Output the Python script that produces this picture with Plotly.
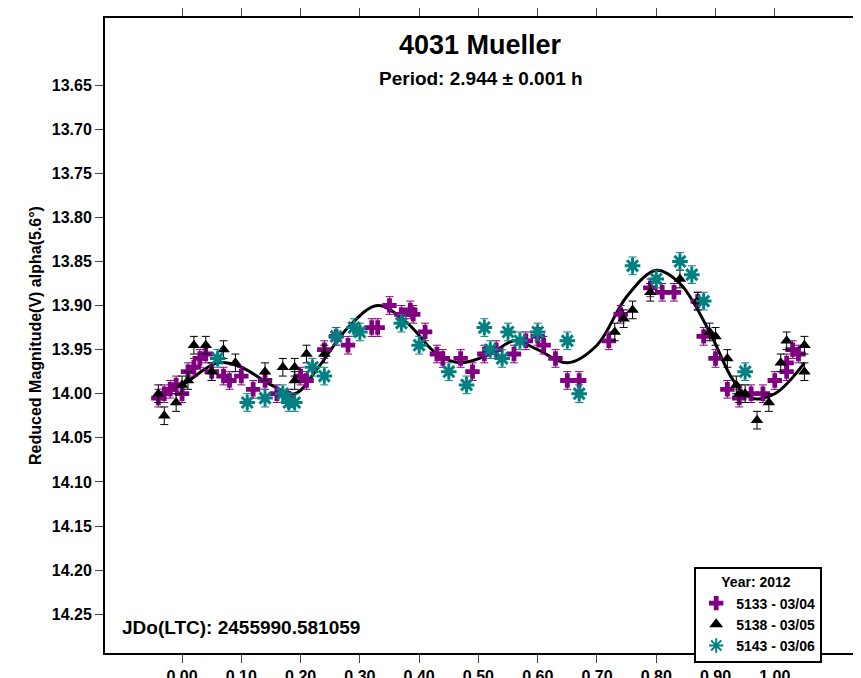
import plotly.graph_objects as go

p_x = [-0.04,-0.03,-0.02,-0.01,0.0,0.01,0.02,0.03,0.04,0.05,0.07,0.08,0.10,0.12,0.14,0.16,0.18,0.20,0.21,0.24,0.26,0.28,0.32,0.33,0.35,0.37,0.385,0.39,0.41,0.43,0.44,0.47,0.49,0.51,0.53,0.56,0.58,0.60,0.61,0.63,0.65,0.67,0.72,0.74,0.79,0.81,0.83,0.87,0.88,0.90,0.92,0.94,0.96,0.98,1.0,1.02,1.03,1.04,1.02]
p_y = [14.005,14.0,13.995,13.99,14.0,13.975,13.97,13.96,13.955,13.975,13.98,13.985,13.98,13.995,13.985,14.0,14.005,13.98,13.985,13.95,13.935,13.945,13.925,13.925,13.9,13.91,13.905,13.91,13.93,13.955,13.96,13.96,13.975,13.955,13.95,13.955,13.94,13.935,13.945,13.96,13.985,13.985,13.94,13.91,13.88,13.885,13.885,13.895,13.935,13.96,13.995,14.005,14.0,14.0,13.985,13.965,13.95,13.955,13.975]
b_x = [-0.04,-0.03,-0.01,0.0,0.01,0.02,0.04,0.05,0.07,0.09,0.14,0.17,0.19,0.19,0.21,0.24,0.73,0.745,0.76,0.79,0.84,0.87,0.89,0.90,0.92,0.935,0.94,0.95,0.97,0.99,1.01,1.02,1.05,1.05]
b_y = [14.0,14.025,14.01,13.99,13.985,13.945,13.945,13.975,13.95,13.965,13.975,13.97,13.985,13.97,13.955,13.955,13.93,13.915,13.905,13.885,13.87,13.895,13.93,13.935,13.96,13.99,14.0,14.0,14.03,14.01,13.965,13.94,13.945,13.975]
t_x = [0.06,0.11,0.14,0.17,0.18,0.19,0.22,0.24,0.26,0.29,0.30,0.37,0.40,0.45,0.48,0.51,0.52,0.54,0.55,0.57,0.60,0.65,0.67,0.76,0.80,0.84,0.86,0.88,0.95]
t_y = [13.96,14.01,14.005,14.0,14.01,14.01,13.97,13.98,13.935,13.925,13.93,13.92,13.945,13.975,13.99,13.925,13.95,13.96,13.93,13.94,13.93,13.94,14.0,13.855,13.87,13.85,13.865,13.895,13.975]
fit_x = [-0.04,0.0,0.06,0.10,0.15,0.19,0.23,0.28,0.33,0.38,0.43,0.47,0.52,0.56,0.60,0.65,0.70,0.75,0.80,0.84,0.89,0.93,0.96,1.0,1.05]
fit_y = [14.0,13.99,13.965,13.97,13.99,14.0,13.97,13.925,13.9,13.92,13.955,13.965,13.955,13.94,13.95,13.965,13.945,13.89,13.86,13.875,13.93,13.985,14.005,14.0,13.965]
err = 0.01

fig = go.Figure()
fig.add_trace(go.Scatter(x=fit_x, y=fit_y, mode="lines", line=dict(color="black", width=3, shape="spline"), showlegend=False))
def pts(x, y, name, color, sym, size, lw):
    fig.add_trace(go.Scatter(x=x, y=y, mode="markers", name=name,
        marker=dict(color=color, symbol=sym, size=size, line=dict(color=color, width=lw)),
        error_y=dict(type="constant", value=err, color=color, thickness=1, width=4)))
pts(p_x, p_y, "5133 - 03/04", "#800080", "cross", 12, 0)
pts(b_x, b_y, "5138 - 03/05", "black", "triangle-up", 11, 0)
pts(t_x, t_y, "5143 - 03/06", "#008080", "asterisk", 13, 3)

tf = dict(size=16, family="Liberation Sans", color="black", weight="bold")
fig.update_layout(
    width=861, height=678, paper_bgcolor="white", plot_bgcolor="white",
    margin=dict(l=97, r=13, t=10, b=33, autoexpand=False),
    font=dict(family="Liberation Sans, Arial", color="black"),
    xaxis=dict(range=[-0.13, 1.137], tickvals=[i/10 for i in range(11)],
               ticktext=["%.2f" % (i/10) for i in range(11)], ticks="outside", ticklen=8,
               showline=True, linecolor="black", linewidth=2, mirror="allticks", showgrid=False, zeroline=False,
               tickfont=tf, automargin=False),
    yaxis=dict(range=[14.294, 13.574], tickvals=[13.65+0.05*i for i in range(13)],
               ticktext=["%.2f" % (13.65+0.05*i) for i in range(13)], ticks="outside", ticklen=8,
               showline=True, linecolor="black", linewidth=2, mirror="allticks", showgrid=False, zeroline=False,
               tickfont=tf, automargin=False,
               title=dict(text="<b>Reduced Magnitude(V) alpha(5.6°)</b>", font=dict(size=16), standoff=6)),
    legend=dict(x=0.955, y=0.135, xanchor="right", yanchor="top", bordercolor="black", borderwidth=2,
                bgcolor="white", font=dict(size=14, weight="bold"), title=dict(text="<b>      Year: 2012</b>", font=dict(size=14)),
                tracegroupgap=0, itemsizing="constant"),
    annotations=[
        dict(text="<b>4031 Mueller</b>", x=0.5, y=0.985, xref="paper", yref="paper", xanchor="center",
             yanchor="top", showarrow=False, font=dict(size=27)),
        dict(text="<b>Period: 2.944 ± 0.001 h</b>", x=0.5, y=0.925, xref="paper", yref="paper", xanchor="center",
             yanchor="top", showarrow=False, font=dict(size=19)),
        dict(text="<b>JDo(LTC): 2455990.581059</b>", x=0.02, y=0.02, xref="paper", yref="paper",
             xanchor="left", yanchor="bottom", showarrow=False, font=dict(size=19))],
)
fig.write_html("out.html")
